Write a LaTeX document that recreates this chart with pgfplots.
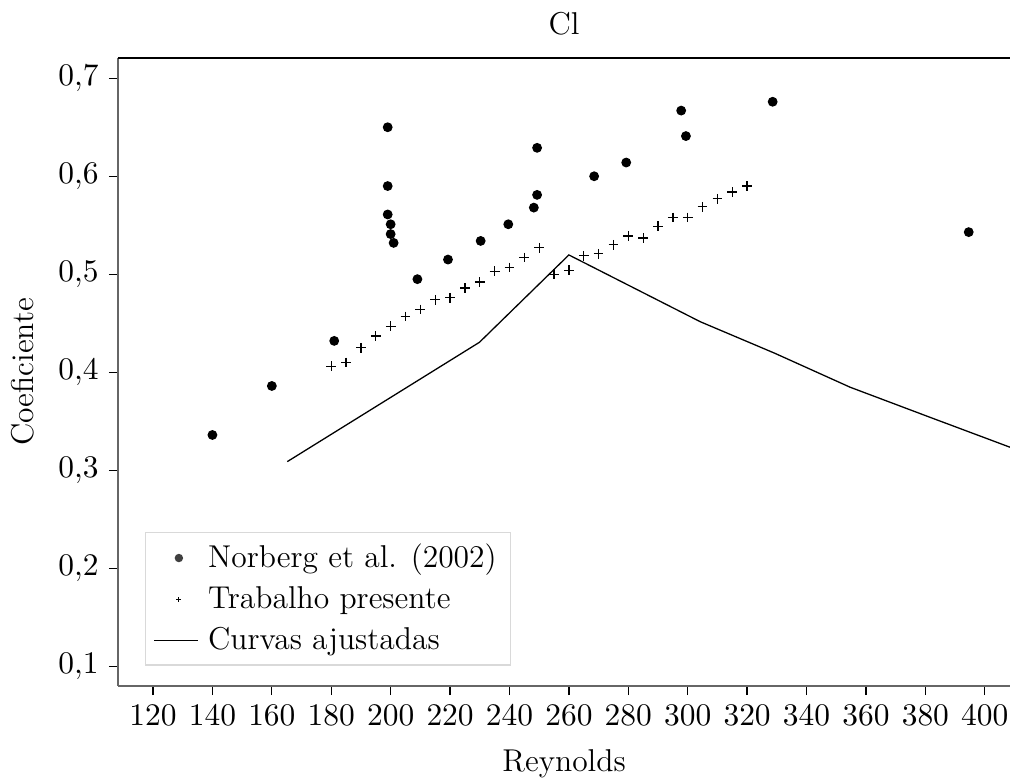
\documentclass[border=0pt]{standalone}
\usepackage{pgfplots}
\pgfplotsset{compat=1.18}
\begin{document}
\begin{tikzpicture}[font=\fontsize{11}{13.5}\selectfont]
\begin{axis}[
  scale only axis,
  width=310.8pt, height=218.8pt,
  xmin=108.2, xmax=408.5,
  ymin=0.0799, ymax=0.7207,
  axis x line*=bottom, axis y line*=left,
  axis line style={-, draw=black!60, line width=0.7pt},
  tick align=outside,
  major tick length=3.2pt,
  tick style={black, line width=0.45pt},
  tick label style={font=\fontsize{11}{13.5}\selectfont},
  label style={font=\fontsize{11}{13.5}\selectfont},
  xtick={120,140,...,400},
  ytick={0.1,0.2,0.3,0.4,0.5,0.6,0.7},
  yticklabel style={/pgf/number format/.cd, fixed, fixed zerofill, precision=1, use comma},
  scaled y ticks=false,
  title={Cl},
  title style={yshift=-1.5pt, font=\fontsize{11}{13.5}\selectfont},
  xlabel={Reynolds},
  ylabel={Coeficiente},
  xlabel shift=1.5pt,
  ylabel shift=1.5pt,
  legend cell align=left,
  legend style={at={(rel axis cs:0.0303,0.0323)}, anchor=south west,
    draw=black!15, line width=0.5pt, inner xsep=2.8pt, inner ysep=2pt, row sep=1pt,
    font=\fontsize{11}{13.5}\selectfont},
]
\addplot[only marks, mark=*, mark size=1.5pt, black,
  legend image code/.code={\fill[black!75] (0.3cm,0cm) circle (1.2pt);}]
coordinates {
(140,0.336) (160,0.386) (181,0.432) (199,0.650) (199,0.590) (199,0.561)
(200,0.551) (200,0.541) (201,0.532) (209,0.495) (219.3,0.515) (230.3,0.534)
(239.6,0.551) (248.2,0.568) (249.3,0.581) (249.3,0.629) (268.5,0.600)
(279.3,0.614) (297.8,0.667) (299.4,0.641) (328.6,0.676) (394.6,0.543)
};
\addlegendentry{Norberg et al. (2002)}
\addplot[only marks, mark=+, mark size=1.7pt, black, mark options={line width=0.45pt},
  legend image code/.code={\draw[black, line width=0.4pt] (0.3cm-0.85pt,0cm) -- (0.3cm+0.85pt,0cm) (0.3cm,-0.85pt) -- (0.3cm,0.85pt);}]
coordinates {
(180,0.406) (185,0.410) (190,0.425) (195,0.437) (200,0.447) (205,0.457)
(210,0.464) (215,0.474) (220,0.476) (225,0.486) (230,0.492) (235,0.503)
(240,0.507) (245,0.517) (250,0.527) (255,0.500) (260,0.504) (265,0.519)
(270,0.521) (275,0.530) (280,0.539) (285,0.537) (290,0.549) (295,0.558)
(300,0.558) (305,0.569) (310,0.577) (315,0.584) (320,0.590)
};
\addlegendentry{Trabalho presente}
\addplot[black, line width=0.45pt,
  legend image code/.code={\draw[black, line width=0.45pt] (0cm,0cm) -- (0.54cm,0cm); \path (0.58cm,0cm);}]
coordinates {
(165.2,0.3088) (229.9,0.4306) (260,0.5197) (304.2,0.4516) (329.3,0.4194)
(354.7,0.3847) (381.6,0.3540) (408.5,0.3235)
};
\addlegendentry{Curvas ajustadas}
\draw[black, line width=0.5pt] (rel axis cs:0,1) -- (rel axis cs:1,1);
\coordinate (bl) at (rel axis cs:0,0);
\coordinate (tr) at (rel axis cs:1,1);
\end{axis}
\pgfresetboundingbox
\path[use as bounding box] ([xshift=-41.1pt,yshift=-32.75pt]bl) rectangle ([yshift=20.2pt]tr);
\end{tikzpicture}
\end{document}
